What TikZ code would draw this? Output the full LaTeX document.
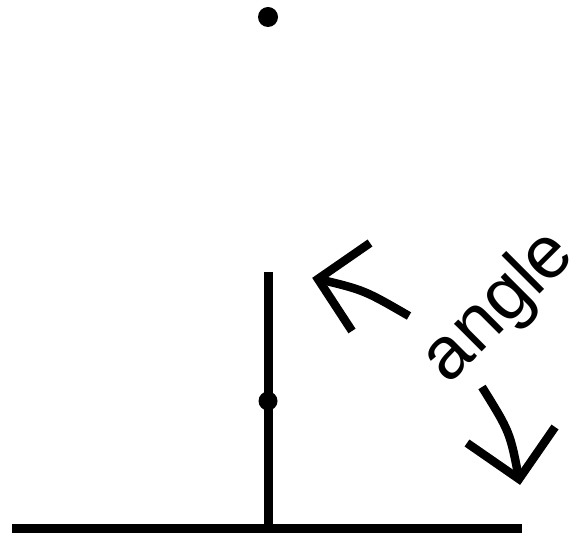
\documentclass[tikz,border=0pt]{standalone}
\usepackage{fontspec}
\setmainfont{Liberation Sans}
\begin{document}
\begin{tikzpicture}[x=1pt,y=-1pt,
  dot/.style={circle,fill=black,inner sep=0pt,minimum size=19pt},
  stroke/.style={line width=9pt},
  arrowline/.style={line width=8.5pt,line join=miter}]
\useasboundingbox (0,0) rectangle (580,537);
% dots
\node[dot,minimum size=20pt] (top) at (268,17) {};
\node[dot,minimum size=19pt] (mid) at (268,401) {};
% vertical and horizontal lines
\coordinate (vtop) at (268,272);
\coordinate (vbot) at (268,528);
\coordinate (hl) at (12,528);
\coordinate (hr) at (522,528);
\draw[stroke] (vtop) -- (vbot);
\draw[stroke] (hl) -- (hr);
% upper arrow
\coordinate (utip) at (318,279);
\coordinate (ub1) at (370,243);
\coordinate (ub2) at (352,331);
\coordinate (ustart) at (409,316);
\draw[arrowline] (ub1) -- (utip) -- (ub2);
\draw[arrowline] (ustart) .. controls (364,290) .. (utip);
% lower arrow
\coordinate (ltip) at (519,479);
\coordinate (lb1) at (467,443);
\coordinate (lb2) at (555,427);
\coordinate (lstart) at (482,387);
\draw[arrowline] (lb1) -- (ltip) -- (lb2);
\draw[arrowline] (lstart) .. controls (510,432) .. (ltip);
% label
\node[rotate=45,anchor=base,inner sep=0pt,font=\fontsize{74}{80}\selectfont] (lbl) at (513,321) {angle};
\end{tikzpicture}
\end{document}
